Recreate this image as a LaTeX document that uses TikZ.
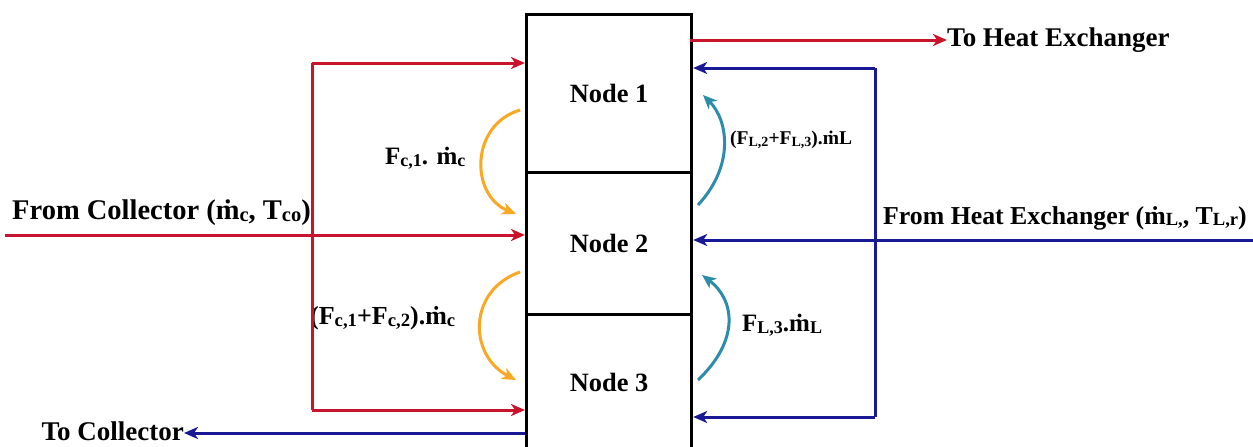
\documentclass[tikz,border=0pt]{standalone}
\usepackage{fontspec}
\setmainfont{Liberation Serif}
\usetikzlibrary{arrows.meta}
\definecolor{redl}{RGB}{200,20,45}
\definecolor{bluel}{RGB}{25,25,150}
\definecolor{orangel}{RGB}{250,168,35}
\definecolor{teall}{RGB}{45,140,170}
\newcommand\sbx[1]{{\fontsize{0.72em}{1em}\selectfont\raisebox{-0.1em}{#1}}}
\tikzset{
  box/.style={draw=black, line width=3.2pt, minimum width=165pt, inner sep=0pt, font=\fontsize{26.4}{30}\selectfont\bfseries},
  redline/.style={draw=redl, line width=3pt},
  blueline/.style={draw=bluel, line width=3pt},
  tip/.style={-{Stealth[length=14pt,width=12pt,inset=4pt]}},
  orangearc/.style={draw=orangel, line width=3pt, -{Stealth[length=14pt,width=12pt,inset=4pt]}},
  tealarc/.style={draw=teall, line width=3pt, -{Stealth[length=14pt,width=12pt,inset=4pt]}},
  biglabel/.style={inner sep=0pt, font=\fontsize{27}{30}\selectfont\bfseries},
  arclabel/.style={inner sep=0pt, font=\fontsize{25}{28}\selectfont\bfseries},
}
\begin{document}
\begin{tikzpicture}[x=1pt,y=-1pt]
\useasboundingbox (0,0) rectangle (1253,447);
% nodes
\node[box, minimum height=158pt, anchor=north west] (n1) at (525,13) {Node 1};
\node[box, minimum height=142pt, anchor=north west] (n2) at (525,171) {Node 2};
\node[box, minimum height=136pt, anchor=north west] (n3) at (525,313) {Node 3};
% labels
\node[biglabel, anchor=west] (the) at (947,40) {To Heat Exchanger};
\node[biglabel, anchor=east] (tc) at (184,431) {To Collector};
\node[biglabel, anchor=west, font=\fontsize{28.5}{30}\selectfont\bfseries] (fc) at (12,213) {From Collector (ṁ\sbx{c}, T\sbx{co})};
\node[biglabel, anchor=west, font=\fontsize{25.8}{30}\selectfont\bfseries] (fhe) at (883,218) {From Heat Exchanger (ṁ\sbx{L,}, T\sbx{L,r})};
\node[arclabel, anchor=west] (l1) at (385,158) {F\sbx{c,1}. ṁ\sbx{c}};
\node[arclabel, anchor=west, font=\fontsize{26}{28}\selectfont\bfseries] (l2) at (310,318) {(F\sbx{c,1}+F\sbx{c,2}).ṁ\sbx{c}};
\node[arclabel, anchor=west, font=\fontsize{19.5}{24}\selectfont\bfseries] (l3) at (730,140) {(F\sbx{L,2}+F\sbx{L,3}).ṁL};
\node[arclabel, anchor=west] (l4) at (742,325) {F\sbx{L,3}.ṁ\sbx{L}};
% coordinates
\coordinate (cin) at (5,235);
\coordinate (rt) at (312,63);
\coordinate (rb) at (312,410);
\coordinate (bin) at (1253,240);
\coordinate (bt) at (875,68);
\coordinate (bb) at (875,417);
\coordinate (hx) at (690,40);
\coordinate (tcs) at (525,433);
% red lines
\draw[redline, tip] (cin) -- (cin -| n2.west);
\draw[redline] (rt) -- (rb);
\draw[redline, tip] (rt) -- (rt -| n1.west);
\draw[redline, tip] (rb) -- (rb -| n3.west);
\draw[redline, tip] (hx) -- (hx -| the.west);
% blue lines
\draw[blueline, tip] (bin) -- (bin -| n2.east);
\draw[blueline] (bt) -- (bb);
\draw[blueline, tip] (bt) -- (bt -| n1.east);
\draw[blueline, tip] (bb) -- (bb -| n3.east);
\draw[blueline, tip] (tcs) -- (tcs -| tc.east);
% arcs
\coordinate (o1s) at (520,110); \coordinate (o1e) at (516,214);
\coordinate (o2s) at (520,272); \coordinate (o2e) at (516,380);
\coordinate (t1s) at (698,205); \coordinate (t1e) at (703,95);
\coordinate (t2s) at (698,380); \coordinate (t2e) at (702,275);
\draw[orangearc] (o1s) .. controls (470,125) and (470,195) .. (o1e);
\draw[orangearc] (o2s) .. controls (468,290) and (468,355) .. (o2e);
\draw[tealarc] (t1s) .. controls (735,165) and (728,120) .. (t1e);
\draw[tealarc] (t2s) .. controls (740,340) and (735,300) .. (t2e);
\end{tikzpicture}
\end{document}
